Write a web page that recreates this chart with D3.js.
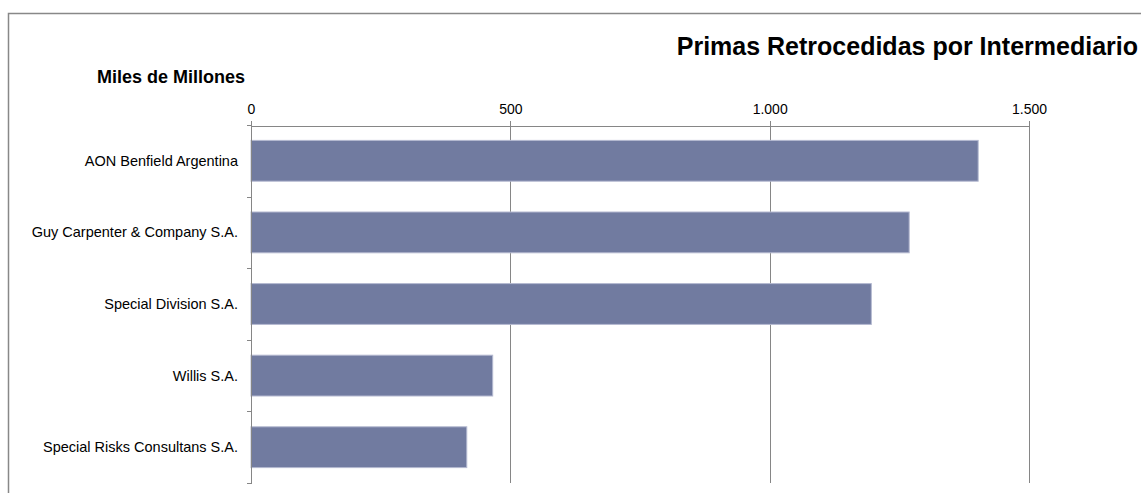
<!DOCTYPE html>
<html>
<head>
<meta charset="utf-8">
<script src="https://cdn.jsdelivr.net/npm/d3@7"></script>
<style>
  body { margin: 0; background: #fff; }
  svg { display: block; font-family: "Liberation Sans", Arial, sans-serif; }
  .axis path, .axis line { stroke: #868686; shape-rendering: crispEdges; }
  .axis text { fill: #000; font-size: 14px; }
  .grid line { stroke: #868686; shape-rendering: crispEdges; }
</style>
</head>
<body>
<div id="chart"></div>
<script>
// Data
var intermediarios = [
  "AON Benfield Argentina",
  "Guy Carpenter & Company S.A.",
  "Special Division S.A.",
  "Willis S.A.",
  "Special Risks Consultans S.A."
];
var primas = [1402, 1269, 1196, 466, 416];
var ticks = [0, 500, 1000, 1500];
var tickLabels = ["0", "500", "1.000", "1.500"];

var width = 1141, height = 493;
var margin = { top: 125, left: 251, bottom: 10 };
var plotBottom = 483;

var svg = d3.select("#chart").append("svg")
  .attr("width", width)
  .attr("height", height);

// outer frame
svg.append("path")
  .attr("d", "M8.5," + (height + 5) + "V13.5H" + (width + 5))
  .attr("fill", "none")
  .attr("stroke", "#888")
  .attr("stroke-width", 1.5);

// scales
var x = d3.scaleLinear()
  .domain([0, 1500])
  .range([margin.left, 1029]);

var y = d3.scaleBand()
  .domain(intermediarios)
  .range([margin.top, plotBottom])
  .paddingInner(0.43)
  .paddingOuter(0.215);

// gridlines
svg.append("g")
  .attr("class", "grid")
  .selectAll("line")
  .data(ticks.slice(1))
  .enter().append("line")
  .attr("x1", function(d) { return Math.round(x(d)) + 0.5; })
  .attr("x2", function(d) { return Math.round(x(d)) + 0.5; })
  .attr("y1", margin.top)
  .attr("y2", plotBottom);

// bars
svg.append("g")
  .selectAll("rect")
  .data(primas)
  .enter().append("rect")
  .attr("x", x(0))
  .attr("y", function(d, i) { return y(intermediarios[i]); })
  .attr("width", function(d) { return x(d) - x(0); })
  .attr("height", y.bandwidth())
  .attr("fill", "#717ba0")
  .attr("stroke", "#b4b9d0")
  .attr("stroke-width", 1);

// top axis
var xAxis = d3.axisTop(x)
  .tickValues(ticks)
  .tickFormat(function(d, i) { return tickLabels[i]; })
  .tickSize(5)
  .tickSizeOuter(0)
  .tickPadding(7);

svg.append("g")
  .attr("class", "axis")
  .attr("transform", "translate(0," + (margin.top + 0.5) + ")")
  .call(xAxis)
  .call(function(g) { g.attr("font-family", null).attr("font-size", null); });

// left axis with ticks between categories
var leftAxis = svg.append("g").attr("class", "axis");
leftAxis.append("line")
  .attr("x1", x(0) + 0.5).attr("x2", x(0) + 0.5)
  .attr("y1", margin.top).attr("y2", plotBottom + 0.5);

var step = (plotBottom - margin.top) / intermediarios.length;
leftAxis.selectAll("line.tick")
  .data(d3.range(intermediarios.length + 1))
  .enter().append("line")
  .attr("class", "tick")
  .attr("x1", x(0) - 4).attr("x2", x(0) + 0.5)
  .attr("y1", function(i) { return Math.round(margin.top + i * step) + 0.5; })
  .attr("y2", function(i) { return Math.round(margin.top + i * step) + 0.5; });

leftAxis.selectAll("text")
  .data(intermediarios)
  .enter().append("text")
  .attr("x", 238)
  .attr("y", function(d) { return y(d) + y.bandwidth() / 2; })
  .attr("dy", "0.35em")
  .attr("text-anchor", "end")
  .style("font-size", "14.5px")
  .text(function(d) { return d; });

// titles
svg.append("text")
  .attr("x", 1138)
  .attr("y", 55)
  .attr("text-anchor", "end")
  .attr("font-weight", "bold")
  .attr("font-size", "25px")
  .text("Primas Retrocedidas por Intermediario");

svg.append("text")
  .attr("x", 97)
  .attr("y", 83)
  .attr("font-weight", "bold")
  .attr("font-size", "18px")
  .text("Miles de Millones");
</script>
</body>
</html>
